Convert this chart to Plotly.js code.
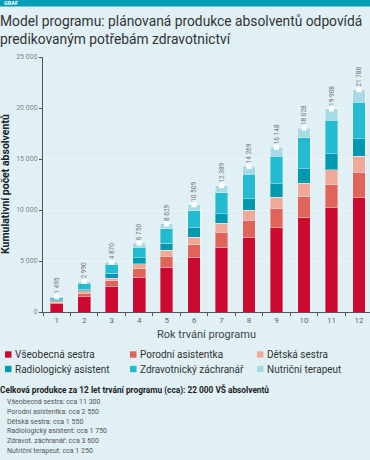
<!DOCTYPE html>
<html>
<head>
<meta charset="utf-8">
<script src="https://cdn.plot.ly/plotly-3.0.1.min.js"></script>
<style>
html,body{margin:0;padding:0;background:#e0f0f5;}
#chart{width:370px;height:460px;}
</style>
</head>
<body>
<div id="chart"></div>
<script>
const years = ['1','2','3','4','5','6','7','8','9','10','11','12'];
const vseobecna = [800,1540,2520,3430,4410,5390,6370,7290,8270,9220,10200,11190];
const porodni   = [180,320,520,820,1050,1210,1440,1700,1890,2120,2320,2525];
const detska    = [110,200,290,490,590,750,880,980,1110,1270,1430,1535];
const radiolog  = [120,160,490,590,710,890,950,1140,1310,1440,1570,1735];
const zachranar = [200,620,850,1040,1380,1690,2060,2390,2680,3010,3270,3565];
const nutricni  = [85,150,200,380,489,579,689,769,888,968,1118,1238];
const totals    = [1495,2990,4870,6750,8629,10509,12389,14269,16148,18028,19908,21788];

const seriesNames = ['Všeobecná sestra','Porodní asistentka','Dětská sestra','Radiologický asistent','Zdravotnický záchranář','Nutriční terapeut'];
const seriesColors = ['#cc0a2f','#e0645a','#f0a898','#0099b0','#22bbcf','#a6dbe5'];
const seriesValues = [vseobecna,porodni,detska,radiolog,zachranar,nutricni];

const summaryTitle = 'Celková produkce za 12 let trvání programu (cca): 22 000 VŠ absolventů';
const summaryLines = ['Všeobecná sestra: cca 11 300','Porodní asistentka: cca 2 550','Dětská sestra: cca 1 550','Radiologický asistent: cca 1 750','Zdravot. záchranář: cca 3 600','Nutriční terapeut: cca 1 250'];

const W=370,H=460,ML=43,MR=0,MT=57,MB=148;
const PW=W-ML-MR, PH=H-MT-MB;
const px = x => (x-ML)/PW;
const py = y => (H-MB-y)/PH;
const fmt = v => String(v).replace(/\B(?=(\d{3})+(?!\d))/g,' ');
const FONT = 'Roboto, "Noto Sans", sans-serif';

const last = seriesValues.length-1;
const traces = seriesValues.map((vals,i)=>{
  const t = {
    type:'bar', x:years, y:vals, name:seriesNames[i], showlegend:false,
    marker:{color:seriesColors[i], line:{color:'rgba(255,255,255,0.35)', width:1}},
    width:0.46, hoverinfo:'skip', cliponaxis:false
  };
  if(i===last){
    t.text = totals.map(fmt);
    t.textposition = 'outside';
    t.textangle = -90;
    t.constraintext = 'none';
    t.outsidetextfont = {family:FONT, size:6.5, color:'#777'};
  } else {
    t.textposition = 'none';
  }
  return t;
});
traces.push({
  type:'scatter', mode:'markers', x:years, y:totals, showlegend:false, hoverinfo:'skip',
  marker:{symbol:'square', size:5, color:'#ffffff'}, cliponaxis:false
});

const annotations = [];
annotations.push({
  xref:'paper', yref:'paper', x:px(2), y:py(3.2), xanchor:'left', yanchor:'middle',
  text:'<b>GRAF</b>', showarrow:false, font:{family:FONT,size:5.5,color:'#ffffff'}
});
annotations.push({
  xref:'paper', yref:'paper', x:px(5.5), y:0.5, xanchor:'center', yanchor:'middle', textangle:-90,
  text:'<b>Kumulativní počet absolventů</b>', showarrow:false, font:{family:FONT,size:10.5,color:'#222'}
});
annotations.push({
  xref:'paper', yref:'paper', x:px(-2), y:py(390), xanchor:'left', yanchor:'middle',
  text:'<b>'+summaryTitle+'</b>', showarrow:false, font:{family:FONT,size:8.3,color:'#222'}
});
summaryLines.forEach((t,i)=>{
  annotations.push({
    xref:'paper', yref:'paper', x:px(5), y:py(402+i*9.8), xanchor:'left', yanchor:'middle',
    text:t, showarrow:false, font:{family:FONT,size:7,color:'#555'}
  });
});

// legend (3 columns x 2 rows) built from the series names/colors
const legCols = [5,130,257], legRows = [354.5,369];
const shapes = [{type:'rect', xref:'paper', yref:'paper', x0:px(0), x1:px(370), y0:py(6.5), y1:py(0),
    fillcolor:'#009db5', line:{width:0}, layer:'below'}];
seriesNames.forEach((n,i)=>{
  const cx = legCols[i%3], cy = legRows[Math.floor(i/3)];
  shapes.push({type:'rect', xref:'paper', yref:'paper', x0:px(cx), x1:px(cx+6.5), y0:py(cy+3.2), y1:py(cy-3.2),
    fillcolor:seriesColors[i], line:{width:0}});
  annotations.push({xref:'paper', yref:'paper', x:px(cx+7.5), y:py(cy), xanchor:'left', yanchor:'middle',
    text:n, showarrow:false, font:{family:FONT,size:10,color:'#333'}});
});

const layout = {
  width:W, height:H,
  margin:{l:ML,r:MR,t:MT,b:MB,pad:0},
  paper_bgcolor:'#e0f0f5', plot_bgcolor:'#e0f0f5',
  separators:', ',
  barmode:'stack',
  showlegend:false,
  font:{family:FONT},
  title:{text:'Model programu: plánovaná produkce absolventů odpovídá<br>predikovaným potřebám zdravotnictví',
    x:0, xref:'container', xanchor:'left', y:1-26/460, yref:'container', yanchor:'top',
    font:{family:FONT, size:13.8, color:'#333'}},
  xaxis:{type:'category', range:[-0.5,11.4], showline:true, linecolor:'#555', linewidth:1,
    ticks:'outside', tickson:'boundaries', ticklen:3, tickcolor:'#555',
    tickfont:{family:FONT,size:8,color:'#666'}, showgrid:false, fixedrange:true,
    title:{text:'Rok trvání programu', font:{family:FONT,size:11,color:'#444'}, standoff:6}},
  yaxis:{range:[0,25000], tickvals:[0,5000,10000,15000,20000,25000], tickformat:',d',
    showline:true, linecolor:'#555', linewidth:1, ticks:'outside', ticklen:3, tickcolor:'#555',
    tickfont:{family:FONT,size:7,color:'#888'}, showgrid:true, gridcolor:'#ebf5f8', gridwidth:1,
    zeroline:false, fixedrange:true},
  shapes:shapes,
  annotations:annotations
};

Plotly.newPlot('chart', traces, layout, {displayModeBar:false, staticPlot:true});
</script>
</body>
</html>
